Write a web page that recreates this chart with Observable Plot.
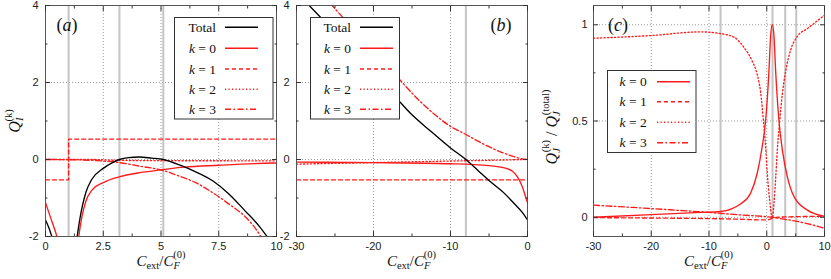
<!DOCTYPE html>
<html><head><meta charset="utf-8">
<script src="https://cdn.jsdelivr.net/npm/d3@7"></script>
<script src="https://cdn.jsdelivr.net/npm/@observablehq/plot@0.6"></script>
<style>
body{margin:0;background:#fff}
#chart{position:relative;width:831px;height:279px;overflow:hidden}
#chart svg{position:absolute;left:0;top:0}
</style></head><body><div id="chart"></div>
<script>
// ---------- data (x, y) ----------
// panel (a): Q_I^(k) vs C_ext/C_F^(0), x in [0,10]
const aTotalL = [[0,-1.57],[0.15,-1.78],[0.3,-2.05]];
const aTotalR = [[1.36,-2.05],[1.42,-1.8],[1.5,-1.5],[1.6,-1.2],[1.75,-0.85],[2,-0.52],[2.5,-0.23],[2.9,-0.08],[3.2,0],[3.6,0.05],[4.05,0.065],[4.6,0.035],[5.1,0],[5.8,-0.14],[6.5,-0.32],[7.25,-0.56],[7.95,-0.9],[8.65,-1.34],[9.25,-1.73],[9.65,-2.05]];
const aK0L = [[0,-1.12],[0.22,-1.51],[0.4,-1.82],[0.52,-2.05]];
const aK0R = [[1.43,-2.05],[1.5,-1.75],[1.6,-1.42],[1.75,-1.08],[2,-0.8],[2.5,-0.6],[3.2,-0.45],[4,-0.35],[5,-0.27],[6,-0.2],[7.5,-0.15],[8.5,-0.12],[10,-0.09]];
const aK1 = [[0,-0.53],[1,-0.53],[1,0.53],[10,0.53]];
const aK2 = [[0,0],[2,0],[3,-0.02],[5,-0.03],[10,-0.035]];
const aK3 = [[0,0],[1,-0.005],[2.5,-0.04],[3.2,-0.08],[4.05,-0.17],[5.06,-0.28],[5.78,-0.43],[6.5,-0.6],[7.23,-0.86],[7.95,-1.16],[8.67,-1.5],[9.1,-1.8],[9.38,-2.05]];
// panel (b): x in [-30,0]
const bTotal = [[-28.6,4.05],[-25,3.3],[-20,2.2],[-16.6,1.5],[-15.2,1.2],[-12.6,0.74],[-10,0.3],[-8,0],[-6.5,-0.27],[-4.8,-0.58],[-3,-0.88],[-1.7,-1.15],[-0.65,-1.38],[0,-1.57]];
const bK0 = [[-30,-0.07],[-20,-0.08],[-10,-0.11],[-5,-0.16],[-3,-0.22],[-2,-0.3],[-1.3,-0.45],[-0.65,-0.72],[-0.2,-1.0],[0,-1.12]];
const bK1 = [[-30,-0.53],[0,-0.53]];
const bK2 = [[-30,-0.12],[-20,-0.08],[-10,-0.04],[0,0]];
const bK3 = [[-25.6,4.05],[-22,3.25],[-19,2.6],[-16.5,2.05],[-14,1.52],[-12,1.16],[-10,0.86],[-8,0.65],[-6,0.43],[-4,0.24],[-2,0.09],[-1,0.03],[0,0]];
// panel (c): Q_J^(k)/Q_J^(total), x in [-30,10]
const cK0 = [[-30,0.0],[-20,0.014],[-11.5,0.025],[-8,0.03],[-4.5,0.07],[-2.8,0.125],[-1.64,0.23],[-0.77,0.37],[-0.2,0.5],[0.38,0.76],[0.67,0.94],[0.96,1.0],[1.25,0.94],[1.54,0.76],[2.12,0.5],[2.7,0.35],[3.57,0.21],[4.72,0.107],[7.04,0.037],[10,0.005]];
const cK1 = [[-30,-0.002],[-20,-0.004],[-10,-0.007],[-5,-0.01],[0,-0.014],[1,-0.005],[2,0.0],[5,0.003],[10,0.005]];
const cK2 = [[-30,0.93],[-20,0.944],[-11.48,0.963],[-8,0.954],[-5.7,0.936],[-3.96,0.883],[-2.5,0.81],[-1.64,0.74],[-1.06,0.65],[-0.6,0.51],[-0.2,0.37],[0.09,0.23],[0.5,0.09],[0.85,0.005],[0.96,-0.005],[1.1,0.02],[1.25,0.07],[1.54,0.2],[1.83,0.35],[2.24,0.5],[2.7,0.64],[3.28,0.76],[4.15,0.87],[5.3,0.94],[7.04,0.98],[10,1.05]];
const cK3 = [[-30,0.063],[-20,0.045],[-10,0.025],[-5,0.013],[0,0.003],[1,0],[3,-0.01],[5,-0.02],[7,-0.033],[10,-0.057]];

// ticks, grids, marker lines
const aXMajor=[0,2.5,5,7.5,10], aXMinor=[1.25,3.75,6.25,8.75];
const abYMajor=[-2,0,2,4], abYMinor=[-1,1,3];
const bXMajor=[-30,-20,-10,0], bXMinor=[-25,-15,-5];
const cXMajor=[-30,-20,-10,0,10], cXMinor=[-25,-15,-5,5];
const cYMajor=[0,0.5,1], cYMinor=[0.25,0.75];
const aXGrid=[2.5,5,7.5], bXGrid=[-20,-10], cXGrid=[-20,-10,0];
const abYGrid=[0,2], cYGrid=[0,0.5,1];
const aVLines=[1,3.2,5.1], bVLines=[-8], cVLines=[-8,1,3.2,5.1];
const legendAB=["Total","k = 0","k = 1","k = 2","k = 3"];
const legendC=["k = 0","k = 1","k = 2","k = 3"];

// ---------- drawing ----------
const W=831,H=279,MT=5,MB=43;
const RED="#ff1a1a";
const STY={
  "Total":{stroke:"#000"},
  "k = 0":{stroke:RED},
  "k = 1":{stroke:RED,strokeDasharray:"4,3"},
  "k = 2":{stroke:RED,strokeDasharray:"1.2,2.3"},
  "k = 3":{stroke:RED,strokeDasharray:"6,2.5,1.5,2.5"}
};
const blank=()=>"";
function panel(cfg){
  const marks=[
    Plot.gridX(cfg.xGrid,{stroke:"#9a9a9a",strokeOpacity:1,strokeDasharray:"1,2"}),
    Plot.gridY(cfg.yGrid,{stroke:"#9a9a9a",strokeOpacity:1,strokeDasharray:"1,2"}),
    Plot.ruleX(cfg.vlines,{stroke:"#c4c4c4",strokeWidth:2}),
    ...cfg.series.map(s=>Plot.line(s.data,{x:d=>d[0],y:d=>d[1],...STY[s.key],strokeWidth:1.35,curve:s.curve||"monotone-x",clip:true})),
    Plot.frame({stroke:"#555"}),
    Plot.axisX(cfg.xMajor,{anchor:"bottom",tickSize:-5,tickFormat:blank,label:null,stroke:"#333"}),
    Plot.axisX(cfg.xMajor,{anchor:"top",tickSize:-5,tickFormat:blank,label:null,stroke:"#333"}),
    Plot.axisX(cfg.xMinor,{anchor:"bottom",tickSize:-2.5,tickFormat:blank,label:null,stroke:"#333"}),
    Plot.axisX(cfg.xMinor,{anchor:"top",tickSize:-2.5,tickFormat:blank,label:null,stroke:"#333"}),
    Plot.axisY(cfg.yMajor,{anchor:"left",tickSize:-5,tickFormat:blank,label:null,stroke:"#333"}),
    Plot.axisY(cfg.yMajor,{anchor:"right",tickSize:-5,tickFormat:blank,label:null,stroke:"#333"}),
    Plot.axisY(cfg.yMinor,{anchor:"left",tickSize:-2.5,tickFormat:blank,label:null,stroke:"#333"}),
    Plot.axisY(cfg.yMinor,{anchor:"right",tickSize:-2.5,tickFormat:blank,label:null,stroke:"#333"}),
    Plot.axisX(cfg.xMajor,{anchor:"bottom",tickSize:0,tickPadding:6,tickFormat:d=>String(d),label:null,fill:"#222"}),
    Plot.axisY(cfg.yMajor,{anchor:"left",tickSize:0,tickPadding:cfg.ypad,tickFormat:d=>String(d),label:null,fill:"#222"})
  ];
  return Plot.plot({
    width:W,height:H,marginLeft:cfg.ml,marginRight:cfg.mr,marginTop:MT,marginBottom:MB,
    x:{domain:cfg.xDomain},y:{domain:cfg.yDomain},
    style:{background:"transparent",fontFamily:"'Liberation Sans',Arial,sans-serif",fontSize:"11px",color:"#222",overflow:"visible"},
    marks
  });
}
const SERIF="'Liberation Serif','Times New Roman',serif";
function rich(sel,segs){
  segs.forEach(s=>{
    const t=sel.append("tspan").text(s.t);
    if(s.it) t.attr("font-style","italic");
    if(s.size) t.attr("font-size",s.size);
    if(s.dy) t.attr("dy",s.dy);
    if(s.dx) t.attr("dx",s.dx);
  });
}
function labelSegs(lbl){
  if(lbl.startsWith("k")) return [{t:"k",it:true},{t:lbl.slice(1)}];
  return [{t:lbl}];
}
function legend(svg,box,labels,rows,textRight,l1,l2){
  const g=d3.select(svg).append("g");
  g.append("rect").attr("x",box[0]).attr("y",box[1]).attr("width",box[2]).attr("height",box[3]).attr("fill","#fff").attr("stroke","#333").attr("stroke-width",1);
  labels.forEach((lb,i)=>{
    const y=rows[i];
    const t=g.append("text").attr("x",textRight).attr("y",y+4.5).attr("text-anchor","end").attr("font-family",SERIF).attr("font-size",13.5).attr("fill","#111");
    rich(t,labelSegs(lb));
    const st=STY[lb];
    g.append("line").attr("x1",l1).attr("x2",l2).attr("y1",y).attr("y2",y).attr("stroke",st.stroke).attr("stroke-width",1.5).attr("stroke-dasharray",st.strokeDasharray||null);
  });
}
function text(svg,x,y,segs,opts={}){
  const t=d3.select(svg).append("text").attr("font-family",SERIF).attr("font-size",opts.size||15).attr("fill","#111").attr("text-anchor","middle");
  if(opts.rot) t.attr("transform",`translate(${x},${y}) rotate(-90)`); else t.attr("x",x).attr("y",y);
  rich(t,segs);
  return t;
}
const xTitle=[{t:"C",it:true},{t:"ext",size:10.5,dy:3},{t:"/",dy:-3},{t:"C",it:true},{t:"F",it:true,size:10.5,dy:3},{t:"(0)",size:10.5,dy:-11,dx:-6.5}];

const chart=document.getElementById("chart");
// (a)
const pa=panel({xDomain:[0,10],yDomain:[-2,4],ml:45,mr:W-276,ypad:7,
  xMajor:aXMajor,xMinor:aXMinor,yMajor:abYMajor,yMinor:abYMinor,xGrid:aXGrid,yGrid:abYGrid,vlines:aVLines,
  series:[{key:"k = 1",data:aK1,curve:"linear"},{key:"k = 2",data:aK2},{key:"k = 3",data:aK3},
          {key:"k = 0",data:aK0L},{key:"k = 0",data:aK0R},{key:"Total",data:aTotalL},{key:"Total",data:aTotalR}]});
chart.appendChild(pa);
legend(pa,[174.5,17.5,98.5,101.5],legendAB,[27.3,48.3,69,89.3,109.3],216,225,258);
text(pa,67,31,[{t:"("},{t:"a",it:true},{t:")"}],{size:18});
text(pa,161,266,xTitle);
text(pa,20,121,[{t:"Q",it:true},{t:"I",it:true,size:10.5,dy:3},{t:"(k)",size:10.5,dy:-11,dx:-4}],{rot:true,size:16});
// (b)
const pb=panel({xDomain:[-30,0],yDomain:[-2,4],ml:296,mr:W-527,ypad:7,
  xMajor:bXMajor,xMinor:bXMinor,yMajor:abYMajor,yMinor:abYMinor,xGrid:bXGrid,yGrid:abYGrid,vlines:bVLines,
  series:[{key:"k = 1",data:bK1,curve:"linear"},{key:"k = 2",data:bK2},{key:"k = 3",data:bK3},{key:"k = 0",data:bK0},{key:"Total",data:bTotal}]});
chart.appendChild(pb);
legend(pb,[310.5,17.5,89,101.5],legendAB,[27.3,48.3,69,89.3,109.3],351,360,393);
text(pb,501,31,[{t:"("},{t:"b",it:true},{t:")"}],{size:18});
text(pb,411.5,266,xTitle);
// (c)
const pc=panel({xDomain:[-30,10],yDomain:[-0.1,1.1],ml:593,mr:W-824,ypad:6,
  xMajor:cXMajor,xMinor:cXMinor,yMajor:cYMajor,yMinor:cYMinor,xGrid:cXGrid,yGrid:cYGrid,vlines:cVLines,
  series:[{key:"k = 1",data:cK1},{key:"k = 3",data:cK3},{key:"k = 2",data:cK2},{key:"k = 0",data:cK0}]});
chart.appendChild(pc);
legend(pc,[607.5,70.5,88.5,82],legendC,[81.7,101.7,122.3,142.7],646.7,657,690);
text(pc,618,31,[{t:"("},{t:"c",it:true},{t:")"}],{size:18});
text(pc,708.5,266,xTitle);
text(pc,557,127,[{t:"Q",it:true},{t:"J",it:true,size:10.5,dy:3},{t:"(k)",size:10.5,dy:-11,dx:-4},{t:" / ",dy:8},{t:"Q",it:true},{t:"J",it:true,size:10.5,dy:3},{t:"(total)",size:10.5,dy:-11,dx:-4}],{rot:true,size:16});
</script></body></html>
